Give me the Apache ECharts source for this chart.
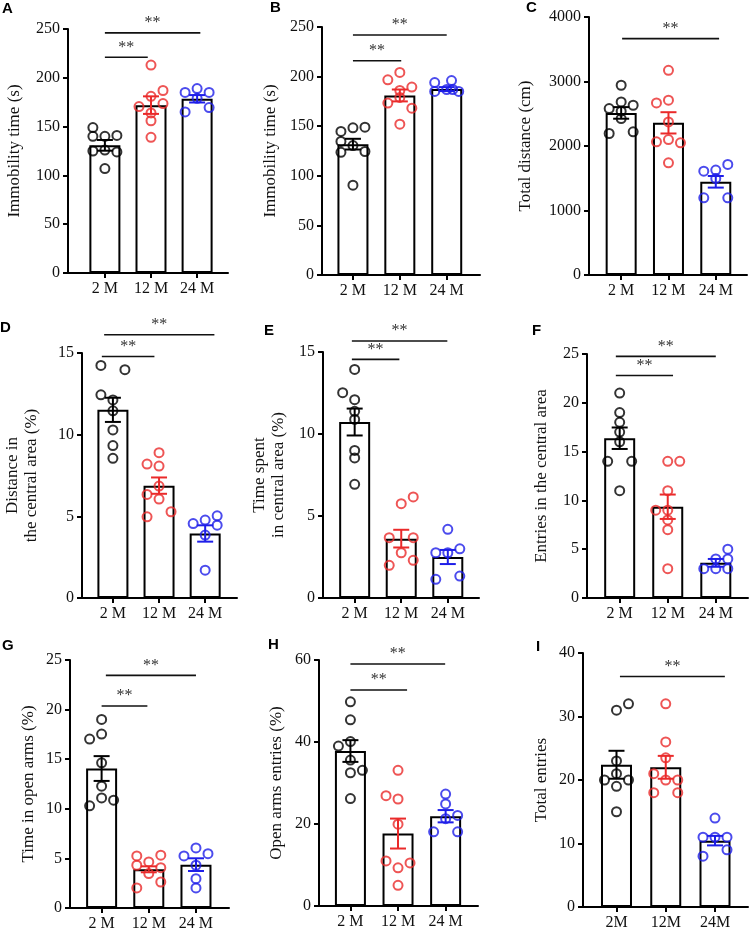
<!DOCTYPE html>
<html><head><meta charset="utf-8">
<script src="https://cdn.jsdelivr.net/npm/echarts@6/dist/echarts.min.js"></script>
<style>html,body{margin:0;padding:0;background:#fff}#c{width:751px;height:933px}</style>
</head><body><div id="c"></div>
<script>
// ---------- data ----------
const cats = ['2 M','12 M','24 M'];
const catsI = ['2M','12M','24M'];
const groupColors = ['#000000','#ea2a2a','#1e1ee8'];

const A_means=[130.8,172,178.5], A_sem=[5.5,9,3.8];
const A_pts=[[149,140,140,141,125,126,124,107],[213,187,181,170.5,173.6,164,156,139],[189,185,185,179,165,169.5]];
const A_cols=[[-1,-1,0,1,-1,0,1,0],[0,1,0,-1,1,0,0,0],[0,-1,1,0,-1,1]];
const A_sig=[[0,0.93,221],[0,2.07,246]];

const B_means=[131.9,181,187.4], B_sem=[5.4,6,2];
const B_pts=[[144.7,148.4,149,134.6,123.7,130.5,124.5,90.5],[196.8,204.2,189.4,186,179,173.3,168.2,152],[194,196,185,187,187,185]];
const B_cols=[[-1,0,1,-1,-1,0,1,0],[-1,0,1,0,0,-1,1,0],[-1,0.4,-1,0,0.5,1]];
const B_sig=[[0,1.03,216],[0,2.0,242]];

const C_means=[2513,2359,1445], C_sem=[90,165,90];
const C_pts=[[2942,2684,2581,2632,2539,2426,2194,2219],[3174,2668,2710,2374,2065,2049,2100,1739],[1610,1626,1714,1497,1197,1197]];
const C_cols=[[0,0,-1,1,0,0,-1,1],[0,-1,0,0,-1,1,0,0],[-1,0,1,0,-1,1]];
const C_sig=[[0.02,2.07,3665]];

const D_means=[11.52,6.88,3.95], D_sem=[0.74,0.5,0.5];
const D_pts=[[14.24,13.98,12.44,12.13,11.46,10.29,9.33,8.55],[8.2,8.9,8.08,6.85,6.34,6.06,4.97,5.28],[4.56,4.77,4.46,5.03,3.85,1.7]];
const D_cols=[[-1,1,-1,0,0,0,0,0],[-1,0,0,0,-1,0,-1,1],[-1,0,1,1,0,0]];
const D_sig=[[-0.24,0.9,14.79],[-0.19,2.2,16.12]];

const E_means=[10.73,3.62,2.5], E_sem=[0.82,0.54,0.43];
const E_pts=[[13.94,12.52,12.09,11.38,10.89,9.0,8.54,6.93],[5.75,6.16,3.68,3.68,2.76,2.3,1.99],[4.19,2.76,2.76,3.0,1.14,1.34]];
const E_cols=[[0,-1,0,0,0,0,0,0],[0,1,-1,1,0,1,-1],[0,-1,0,1,-1,1]];
const E_sig=[[-0.06,0.96,14.55],[-0.06,1.99,15.67]];

const F_means=[16.37,9.35,3.6], F_sem=[1.1,1.25,0.4];
const F_pts=[[21,19,18,17,16,14,14,11],[14,14,11,9,9,8,7,3],[5,4,4,3,3,3]];
const F_cols=[[0,0,0,0,0,-1,1,0],[0,1,0,-1,0,0,0,0],[1,0,1,-1,0,1]];
const F_sig=[[-0.08,1.11,22.8],[-0.08,2.0,24.76]];

const G_means=[14.06,3.9,4.37], G_sem=[1.25,0.3,0.64];
const G_pts=[[19.01,17.03,17.53,14.64,12.28,11.1,10.87,10.3],[5.25,5.32,4.31,4.64,4.07,3.47,2.62,2.02],[6.06,5.25,5.48,4.31,2.96,2.02]];
const G_cols=[[0,-1,0,0,0,0,1,-1],[-1,1,-1,0,1,0,1,-1],[0,-1,1,0,0,0]];
const G_sig=[[0,0.97,20.36],[0.09,2.0,23.45]];

const H_means=[37.8,17.67,21.9], H_sem=[2.65,3.65,1.5];
const H_pts=[[49.8,45.4,39,40.1,35.6,33.1,32.5,26.2],[33.1,26.9,26.1,19.95,11,10.5,9.3,5.05],[27.3,24.9,18.1,21.3,22.1,18.1]];
const H_cols=[[0,0,-1,0,0,1,0,0],[0,-1,0,0,-1,1,0,0],[0,0,-1,0,1,1]];
const H_sig=[[0,1.19,52.7],[0,1.99,59.04]];

const I_means=[22.4,22.0,10.45], I_sem=[2.2,1.8,0.75];
const I_pts=[[32,31,23,21,20,20,19,15],[32,26,23.5,21,20,20,18,18],[14,11,11,11,9,8]];
const I_cols=[[1,0,0,0,-1,1,0,0],[0,0,0,-1,0,1,-1,1],[0,-1,0,1,1,-1]];
const I_sig=[[0.07,2.2,36.3]];

const yMax=[250,250,4000,15,15,25,25,60,40];
const yInterval=[50,50,1000,5,5,5,5,20,10];
const yNames=['Immobility time (s)','Immobility time (s)','Total distance (cm)','Distance in\nthe central area (%)','Time spent\nin central area (%)','Entries in the central area','Time in open arms (%)','Open arms entries (%)','Total entries'];
const letters=['A','B','C','D','E','F','G','H','I'];

// ---------- layout ----------
const layout=[
 {left:68,top:29,width:160,height:244,xmin:-0.8,xmax:2.67,gap:44,lx:2,ly:1},
 {left:322,top:27,width:158,height:248,xmin:-0.66,xmax:2.71,gap:42,lx:270,ly:0},
 {left:589,top:17,width:158,height:258,xmin:-0.68,xmax:2.66,gap:54,lx:526,ly:0},
 {left:82,top:353,width:155,height:245,xmin:-0.67,xmax:2.69,gap:41,lx:0,ly:320},
 {left:323,top:352,width:156,height:246,xmin:-0.68,xmax:2.67,gap:35,lx:264,ly:323},
 {left:587,top:354,width:161,height:244,xmin:-0.68,xmax:2.67,gap:36,lx:532,ly:323},
 {left:70,top:660,width:159,height:248,xmin:-0.67,xmax:2.7,gap:32,lx:2,ly:638},
 {left:319,top:660,width:159,height:246,xmin:-0.66,xmax:2.68,gap:33,lx:268,ly:637},
 {left:583,top:653,width:165,height:254,xmin:-0.68,xmax:2.67,gap:32,lx:536,ly:639}
];

const panelData=[
 [A_means,A_sem,A_pts,A_cols,A_sig],[B_means,B_sem,B_pts,B_cols,B_sig],[C_means,C_sem,C_pts,C_cols,C_sig],
 [D_means,D_sem,D_pts,D_cols,D_sig],[E_means,E_sem,E_pts,E_cols,E_sig],[F_means,F_sem,F_pts,F_cols,F_sig],
 [G_means,G_sem,G_pts,G_cols,G_sig],[H_means,H_sem,H_pts,H_cols,H_sig],[I_means,I_sem,I_pts,I_cols,I_sig]
];

const serif='Liberation Serif';
const grids=[],xAxes=[],yAxes=[],series=[],titles=[];

panelData.forEach((pd,i)=>{
  const L=layout[i];
  const [means,sem,pts,cols,sig]=pd;
  const labels = i===8?catsI:cats;
  const unitPx = L.width/(L.xmax-L.xmin);
  const colUnit = 12/unitPx;
  grids.push({left:L.left,top:L.top,width:L.width,height:L.height,containLabel:false});
  xAxes.push({type:'value',gridIndex:i,min:L.xmin,max:L.xmax,splitLine:{show:false},
    axisLine:{onZero:false,lineStyle:{color:'#000',width:2}},
    axisTick:{show:true,customValues:[0,1,2],length:5,lineStyle:{color:'#000',width:2}},
    axisLabel:{customValues:[0,1,2],formatter:v=>labels[Math.round(v)],fontFamily:serif,fontSize:16,color:'#111',margin:8}
  });
  yAxes.push({type:'value',gridIndex:i,min:0,max:yMax[i],interval:yInterval[i],splitLine:{show:false},
    axisLine:{show:true,onZero:false,lineStyle:{color:'#000',width:2}},
    axisTick:{show:true,length:5,lineStyle:{color:'#000',width:2}},
    axisLabel:{fontFamily:serif,fontSize:16,color:'#111',margin:8,formatter:v=>String(v)},
    name:yNames[i],nameLocation:'middle',nameRotate:90,nameGap:L.gap,
    nameTextStyle:{fontFamily:serif,fontSize:17,color:'#111',lineHeight:19}
  });
  titles.push({text:letters[i],left:L.lx,top:L.ly,padding:0,textStyle:{fontFamily:'Liberation Sans',fontWeight:'bold',fontSize:15,color:'#000'}});
  series.push({type:'bar',xAxisIndex:i,yAxisIndex:i,barWidth:31,z:2,
    itemStyle:{color:'#fff',borderColor:'#000',borderWidth:2},
    data:means.map((m,g)=>[g,m]),animation:false});
  const sdata=[];
  pts.forEach((arr,g)=>arr.forEach((v,k)=>sdata.push({value:[g+cols[g][k]*colUnit,v],itemStyle:{borderColor:groupColors[g]}})));
  series.push({type:'scatter',xAxisIndex:i,yAxisIndex:i,symbol:'circle',symbolSize:9,z:3,
    itemStyle:{color:'rgba(0,0,0,0)',borderWidth:2},data:sdata,animation:false});
  series.push({type:'custom',xAxisIndex:i,yAxisIndex:i,z:4,animation:false,
    data:means.map((m,g)=>[g,m,sem[g]]),encode:{x:0,y:1},
    renderItem:(params,api)=>{
      const x=api.value(0),m=api.value(1),s=api.value(2);
      const t=api.coord([x,m+s]),b=api.coord([x,m-s]);
      const c=groupColors[params.dataIndex];const st={stroke:c,lineWidth:2};
      return {type:'group',children:[
        {type:'line',shape:{x1:t[0],y1:t[1],x2:b[0],y2:b[1]},style:st},
        {type:'line',shape:{x1:t[0]-8,y1:t[1],x2:t[0]+8,y2:t[1]},style:st},
        {type:'line',shape:{x1:b[0]-8,y1:b[1],x2:b[0]+8,y2:b[1]},style:st}]};
    }});
  series.push({type:'custom',xAxisIndex:i,yAxisIndex:i,z:4,animation:false,clip:false,
    data:sig,encode:{x:0,y:2},
    renderItem:(params,api)=>{
      const p0=api.coord([api.value(0),api.value(2)]),p1=api.coord([api.value(1),api.value(2)]);
      return {type:'group',children:[
        {type:'line',shape:{x1:p0[0],y1:p0[1],x2:p1[0],y2:p1[1]},style:{stroke:'#111',lineWidth:1.6}},
        {type:'text',style:{x:(p0[0]+p1[0])/2,y:p0[1]-2,text:'**',fill:'#333',font:'16px "Liberation Serif"',align:'center',verticalAlign:'bottom'}}]};
    }});
});

const chart=echarts.init(document.getElementById('c'),null,{renderer:'canvas'});
chart.setOption({animation:false,backgroundColor:'#fff',title:titles,grid:grids,xAxis:xAxes,yAxis:yAxes,series:series});
</script></body></html>
